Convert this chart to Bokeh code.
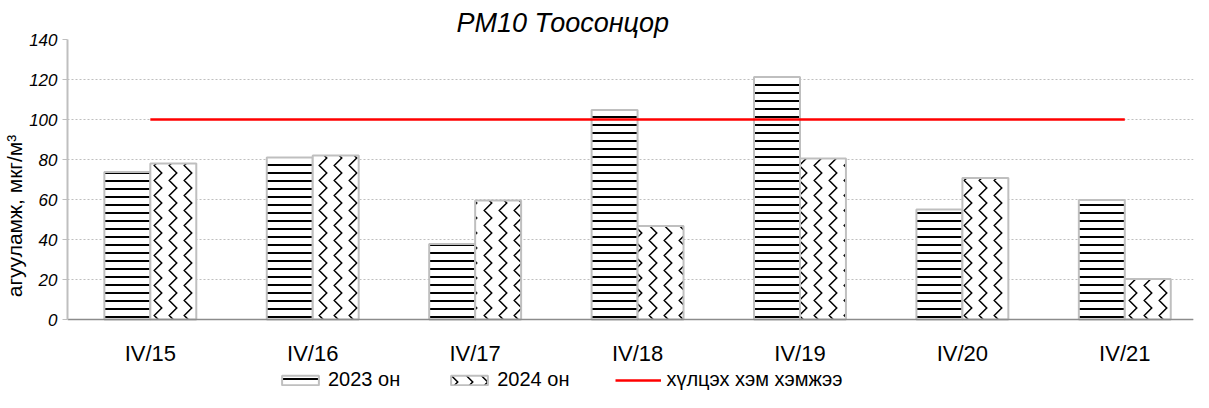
from bokeh.plotting import figure
from bokeh.models import ColumnDataSource, Legend, LegendItem, Title, FixedTicker, Range1d
from bokeh.embed import file_html
from bokeh.resources import INLINE

categories = ["IV/15", "IV/16", "IV/17", "IV/18", "IV/19", "IV/20", "IV/21"]
y2023 = [73.7, 81.0, 37.8, 104.7, 121.3, 55.0, 59.7]
y2024 = [78.0, 82.0, 59.5, 46.7, 80.5, 70.8, 20.3]
limit_value = 100
y_ticks = [0, 20, 40, 60, 80, 100, 120, 140]

FONT = "Liberation Sans"
GRAY = "#BFBFBF"

idx = list(range(len(categories)))
bw = 0.283
source = ColumnDataSource(dict(
    pos=idx,
    x23=[i - bw / 2 for i in idx],
    x24=[i + bw / 2 for i in idx],
    y2023=y2023, y2024=y2024))

p = figure(
    x_range=Range1d(-0.51, 6.423),
    y_range=Range1d(-36.5, 140),
    frame_width=1126, frame_height=353,
    min_border_left=66, min_border_right=1, min_border_top=39, min_border_bottom=0,
    output_backend="svg", toolbar_location=None,
    background_fill_color="white", border_fill_color="white",
)
p.outline_line_color = None

r1 = p.vbar(x="x23", top="y2023", width=bw, source=source,
            fill_color="white", line_color=GRAY, line_width=2,
            hatch_pattern="horizontal_line", hatch_color="black", hatch_scale=8, hatch_weight=2)
r2 = p.vbar(x="x24", top="y2024", width=bw, source=source,
            fill_color="white", line_color=GRAY, line_width=2,
            hatch_pattern="vertical_wave", hatch_color="black", hatch_scale=15, hatch_weight=1.5)
r3 = p.line(x=[idx[0], idx[-1]], y=[limit_value, limit_value], line_color="#FF0000", line_width=2.5)

# axes
p.yaxis.ticker = FixedTicker(ticks=y_ticks)
p.yaxis.bounds = (0, 140)
p.yaxis.major_label_text_font = FONT
p.yaxis.major_label_text_font_style = "italic"
p.yaxis.major_label_text_font_size = "17px"
p.yaxis.major_label_text_color = "black"
p.yaxis.axis_line_color = GRAY
p.yaxis.axis_line_width = 2
p.yaxis.major_tick_line_color = GRAY
p.yaxis.major_tick_out = 5
p.yaxis.major_tick_in = 0
p.yaxis.minor_tick_line_color = None
p.yaxis.major_label_standoff = 5
p.yaxis.axis_label = "агууламж, мкг/м³"
p.yaxis.axis_label_text_font = FONT
p.yaxis.axis_label_text_font_style = "normal"
p.yaxis.axis_label_text_font_size = "21px"
p.yaxis.axis_label_text_color = "black"
p.yaxis.axis_label_standoff = 0

p.xaxis.fixed_location = 0
p.xaxis.ticker = FixedTicker(ticks=idx)
p.xaxis.major_label_overrides = {i: c for i, c in zip(idx, categories)}
p.xaxis.major_label_text_font = FONT
p.xaxis.major_label_text_font_size = "22px"
p.xaxis.major_label_text_color = "black"
p.xaxis.axis_line_color = "#8C8C8C"
p.xaxis.axis_line_width = 1.5
p.xaxis.major_tick_line_color = None
p.xaxis.minor_tick_line_color = None
p.xaxis.major_label_standoff = 15

p.xgrid.grid_line_color = None
p.ygrid.grid_line_color = GRAY
p.ygrid.grid_line_dash = "2 2"
p.ygrid.grid_line_width = 1

# title
p.title = Title(text="PM10 Тоосонцор", align="left", offset=389,
                text_font=FONT, text_font_style="italic", text_font_size="27px",
                text_color="black", standoff=4)

legend = Legend(items=[
    LegendItem(label="2023 он", renderers=[r1]),
    LegendItem(label="2024 он", renderers=[r2]),
    LegendItem(label="хүлцэх хэм хэмжээ", renderers=[r3]),
], orientation="horizontal", location=(210, 1),
    label_text_font=FONT, label_text_font_size="20px", label_text_color="black",
    glyph_width=46, glyph_height=12, spacing=46, label_standoff=5,
    border_line_color=None, background_fill_alpha=0, padding=0, margin=0)
p.add_layout(legend, "center")

open("out.html", "w").write(file_html(p, INLINE))
